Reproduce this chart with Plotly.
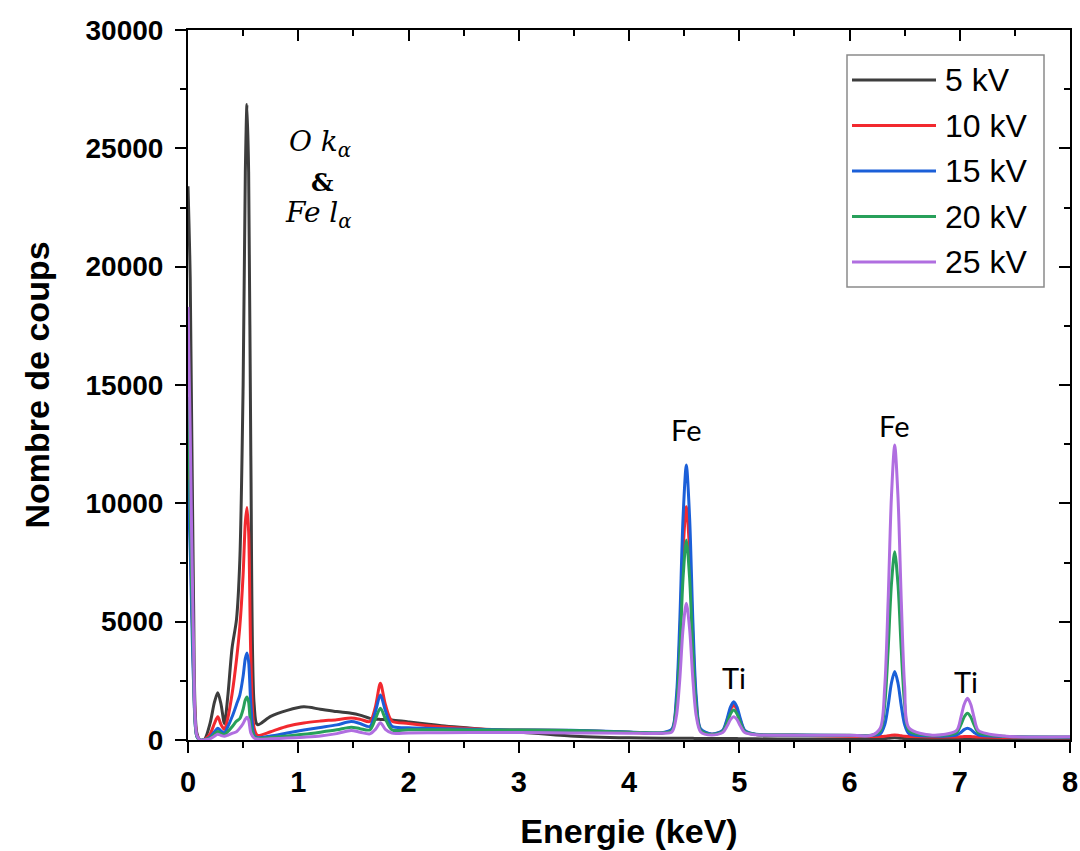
import plotly.graph_objects as go

# ---------------- data ----------------
energy_keV = [
    0.00, 0.02, 0.05, 0.08, 0.11, 0.15, 0.20, 0.24, 0.27, 0.30, 0.33, 0.36, 0.40, 0.44, 0.47,
    0.50, 0.52, 0.535, 0.55, 0.57, 0.60, 0.63, 0.75, 0.90, 1.05, 1.20, 1.35, 1.48, 1.56, 1.65,
    1.70, 1.745, 1.79, 1.85, 2.00, 2.30, 2.83, 3.00, 3.47, 4.00, 4.30,
    4.39, 4.43, 4.46, 4.49, 4.52, 4.55, 4.58, 4.61, 4.65, 4.75,
    4.85, 4.89, 4.92, 4.95, 4.98, 5.01, 5.05, 5.15, 5.50, 6.00, 6.20,
    6.28, 6.32, 6.35, 6.38, 6.41, 6.44, 6.47, 6.50, 6.54, 6.75,
    6.97, 7.01, 7.04, 7.07, 7.10, 7.13, 7.17, 7.40, 8.00,
]

counts_5kV = [
    23400, 19500, 6000, 300, 0, 30, 700, 1600, 2000, 1500, 700, 1800, 3900, 5100, 7600,
    15000, 24000, 26850, 24000, 12000, 1500, 650, 1000, 1250, 1400, 1300, 1200, 1130, 1050, 915,
    880, 870, 860, 850, 760, 600, 400, 340, 170, 90, 70,
    70, 70, 70, 70, 70, 70, 70, 65, 65, 60,
    60, 60, 60, 60, 60, 55, 55, 50, 40, 40, 40,
    50, 60, 70, 85, 90, 85, 70, 60, 50, 40,
    50, 55, 60, 60, 60, 55, 50, 40, 30,
]
counts_10kV = [
    12500, 9000, 3000, 200, 0, 20, 250, 700, 980, 650, 450, 900, 1950, 3400, 4800,
    7000, 9200, 9820, 8800, 3500, 500, 200, 350, 580, 720, 800, 860, 930, 880, 780,
    1400, 2400, 1500, 800, 700, 560, 430, 420, 400, 330, 300,
    430, 1580, 4210, 7950, 9860, 7950, 4210, 1580, 430, 240,
    390, 830, 1270, 1480, 1270, 830, 390, 230, 200, 160, 150,
    150, 160, 180, 200, 210, 200, 180, 160, 150, 130,
    125, 135, 145, 150, 145, 135, 125, 110, 90,
]
counts_15kV = [
    11000, 8000, 2500, 150, 0, 10, 120, 350, 500, 380, 300, 550, 980, 1500, 1900,
    2700, 3450, 3680, 3300, 1500, 200, 100, 170, 300, 420, 530, 640, 780, 700, 570,
    1200, 1900, 1250, 580, 520, 480, 430, 420, 410, 340, 310,
    470, 1830, 4940, 9360, 11620, 9360, 4940, 1830, 470, 250,
    410, 900, 1390, 1620, 1390, 900, 410, 240, 210, 190, 190,
    260, 650, 1430, 2400, 2890, 2400, 1430, 650, 260, 170,
    205, 320, 440, 495, 440, 320, 205, 150, 120,
]
counts_20kV = [
    14500, 10000, 3000, 150, 0, 10, 80, 250, 360, 280, 220, 350, 560, 800, 900,
    1300, 1700, 1820, 1600, 600, 150, 70, 110, 170, 240, 330, 430, 540, 480, 430,
    900, 1340, 900, 430, 430, 430, 420, 420, 400, 330, 300,
    400, 1380, 3630, 6820, 8450, 6820, 3630, 1380, 400, 230,
    360, 730, 1100, 1270, 1100, 730, 360, 230, 210, 200, 200,
    390, 1520, 3770, 6560, 7950, 6560, 3770, 1520, 390, 190,
    310, 640, 970, 1130, 970, 640, 310, 160, 130,
]
counts_25kV = [
    18300, 13000, 4000, 200, 0, 10, 50, 160, 240, 190, 160, 200, 280, 350, 500,
    700, 880, 960, 850, 300, 80, 40, 50, 80, 120, 170, 270, 400, 330, 260,
    450, 730, 450, 290, 300, 310, 320, 320, 300, 290, 280,
    340, 1010, 2520, 4680, 5780, 4680, 2520, 1010, 340, 210,
    315, 590, 860, 985, 860, 590, 315, 220, 200, 200, 200,
    510, 2280, 5840, 10250, 12460, 10250, 5840, 2280, 510, 200,
    400, 950, 1500, 1760, 1500, 950, 400, 170, 140,
]

series_names = ["5 kV", "10 kV", "15 kV", "20 kV", "25 kV"]
series_values = [counts_5kV, counts_10kV, counts_15kV, counts_20kV, counts_25kV]
series_colors = ["#3d3d3d", "#f2292f", "#1b5fd8", "#27a05a", "#b06ee0"]

x_tick_vals = [0, 1, 2, 3, 4, 5, 6, 7, 8]
y_tick_vals = [0, 5000, 10000, 15000, 20000, 25000, 30000]

peak_labels = ["Fe", "Ti", "Fe", "Ti"]
peak_label_x = [4.52, 4.95, 6.40, 7.06]
peak_label_y = [13100, 2620, 13300, 2490]

# ---------------- layout geometry (pixels) ----------------
W, H = 1080, 851
L, R, T, B = 188, 1070, 30, 740

def px_x(p):
    return (p - L) / (R - L)

def px_y(p):
    return (B - p) / (B - T)

fig = go.Figure()
for name, vals, col in zip(series_names, series_values, series_colors):
    fig.add_trace(go.Scatter(
        x=energy_keV, y=vals, name=name, mode="lines",
        line=dict(color=col, width=3, shape="spline", smoothing=0.8),
        showlegend=False,
    ))

# dummy trace to host the mirrored (inside-tick) axes
fig.add_trace(go.Scatter(x=[8], y=[0], xaxis="x2", yaxis="y2", mode="markers",
                         marker=dict(opacity=0), showlegend=False, hoverinfo="skip"))

axis_font = "Liberation Sans, Arial, sans-serif"

fig.update_layout(
    width=W, height=H,
    margin=dict(l=L, r=W - R, t=T, b=H - B),
    paper_bgcolor="white", plot_bgcolor="white",
    showlegend=False,
    xaxis=dict(
        range=[0, 8], tickvals=x_tick_vals, ticks="outside", ticklen=11, tickwidth=2,
        tickcolor="black", showline=True, linewidth=2, linecolor="black", mirror=True,
        showgrid=False, zeroline=False, automargin=False, ticklabelstandoff=4,
        minor=dict(ticks="outside", ticklen=6, tickwidth=2, dtick=0.5, tickcolor="black", showgrid=False),
        tickfont=dict(family=axis_font, size=29, color="black", weight="bold"),
        title=dict(text="<b>Energie (keV)</b>", standoff=22,
                   font=dict(family=axis_font, size=34, color="black")),
    ),
    yaxis=dict(
        range=[0, 30000], tickvals=y_tick_vals, tickformat="d", ticks="outside", ticklen=11, tickwidth=2,
        tickcolor="black", showline=True, linewidth=2, linecolor="black", mirror=True,
        showgrid=False, zeroline=False, automargin=False, ticklabelstandoff=6,
        minor=dict(ticks="outside", ticklen=6, tickwidth=2, dtick=2500, tickcolor="black", showgrid=False),
        tickfont=dict(family=axis_font, size=28, color="black", weight="bold"),
        title=dict(text="<b>Nombre de coups</b>", standoff=26,
                   font=dict(family=axis_font, size=34, color="black")),
    ),
    xaxis2=dict(
        overlaying="x", side="top", anchor="y2", range=[0, 8], tickvals=x_tick_vals,
        ticks="inside", ticklen=11, tickwidth=2, tickcolor="black", showticklabels=False,
        showline=False, showgrid=False, zeroline=False, automargin=False,
        minor=dict(ticks="inside", ticklen=6, tickwidth=2, dtick=0.5, tickcolor="black", showgrid=False),
    ),
    yaxis2=dict(
        overlaying="y", side="right", anchor="x2", range=[0, 30000], tickvals=y_tick_vals,
        ticks="inside", ticklen=11, tickwidth=2, tickcolor="black", showticklabels=False,
        showline=False, showgrid=False, zeroline=False, automargin=False,
        minor=dict(ticks="inside", ticklen=6, tickwidth=2, dtick=2500, tickcolor="black", showgrid=False),
    ),
)

# peak labels
for txt, xv, yv in zip(peak_labels, peak_label_x, peak_label_y):
    fig.add_annotation(x=xv, y=yv, xref="x", yref="y", text=txt, showarrow=False,
                       font=dict(family="Lato, Open Sans, sans-serif", size=29, color="black"),
                       xanchor="center", yanchor="middle")

# O k_alpha & Fe l_alpha label
serif = "DejaVu Serif, Liberation Serif, serif"
fig.add_annotation(x=px_x(320), y=px_y(143), xref="paper", yref="paper",
                   text="<i>O k<sub>α</sub></i>", showarrow=False,
                   font=dict(family=serif, size=28, color="black"), xanchor="center", yanchor="middle")
fig.add_annotation(x=px_x(322), y=px_y(182), xref="paper", yref="paper",
                   text="<b>&</b>", showarrow=False,
                   font=dict(family=serif, size=25, color="black"), xanchor="center", yanchor="middle")
fig.add_annotation(x=px_x(318), y=px_y(214), xref="paper", yref="paper",
                   text="<i>Fe l<sub>α</sub></i>", showarrow=False,
                   font=dict(family=serif, size=28, color="black"), xanchor="center", yanchor="middle")

# legend box (drawn)
fig.add_shape(type="rect", xref="paper", yref="paper",
              x0=px_x(847), x1=px_x(1044), y0=px_y(287), y1=px_y(55),
              line=dict(color="#8a8a8a", width=1.5), fillcolor="white", layer="above")
for i, (name, col) in enumerate(zip(series_names, series_colors)):
    yc = 80 + 45.5 * i
    fig.add_shape(type="line", xref="paper", yref="paper",
                  x0=px_x(852), x1=px_x(936), y0=px_y(yc), y1=px_y(yc),
                  line=dict(color=col, width=3), layer="above")
    fig.add_annotation(x=px_x(943), y=px_y(yc), xref="paper", yref="paper", text=name,
                       showarrow=False, xanchor="left", yanchor="middle",
                       font=dict(family=axis_font, size=32, color="black"))

fig.write_html("out.html", config={"displayModeBar": False},
               post_script="document.body.style.margin='0px';")
